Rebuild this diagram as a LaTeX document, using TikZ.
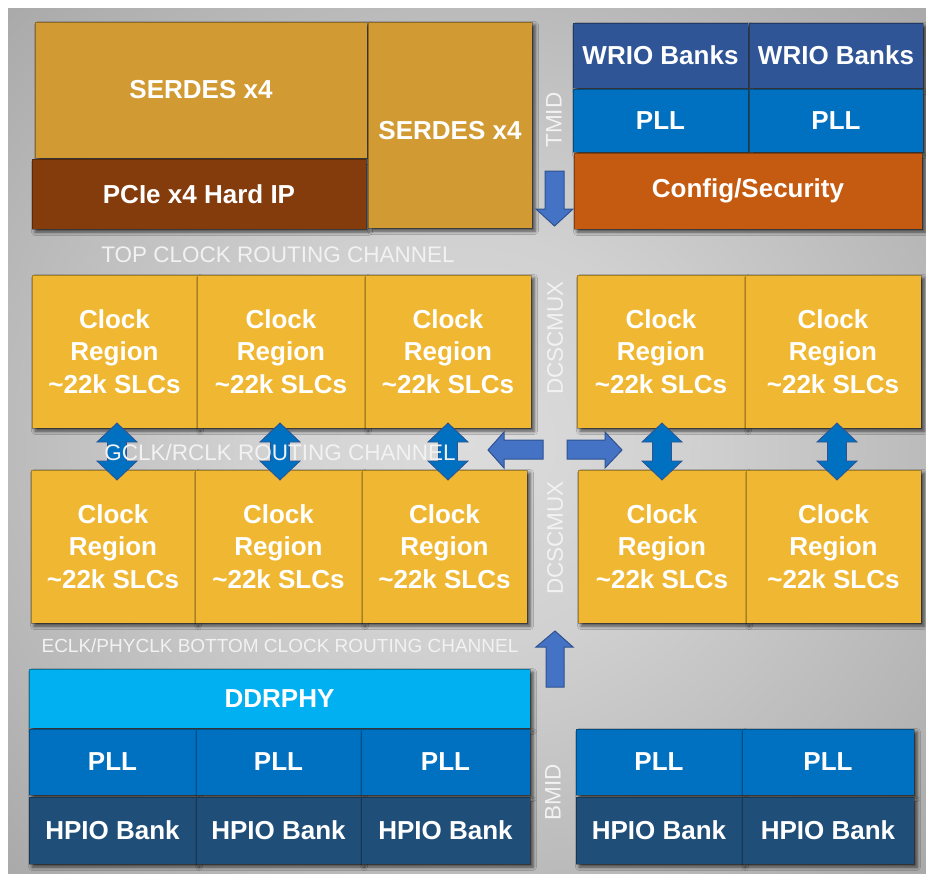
\documentclass[tikz,border=0pt]{standalone}
\usepackage{fontspec}
\setmainfont{Liberation Sans}
\usetikzlibrary{shadows.blur}

% block colours
\definecolor{serdes}{RGB}{209,154,51}
\definecolor{pcie}{RGB}{132,60,12}
\definecolor{wrio}{RGB}{47,85,151}
\definecolor{pll}{RGB}{0,112,192}
\definecolor{config}{RGB}{197,90,17}
\definecolor{clockreg}{RGB}{240,184,50}
\definecolor{ddrphy}{RGB}{0,176,240}
\definecolor{hpio}{RGB}{31,78,121}
\definecolor{arrowfill}{RGB}{68,114,196}
\definecolor{arrowedge}{RGB}{47,82,143}
\definecolor{labelwhite}{RGB}{242,242,242}
% panel background
\definecolor{pcenter}{RGB}{220,220,220}
\definecolor{pmid}{RGB}{145,145,145}
\definecolor{pedge}{RGB}{98,98,98}
\pgfdeclareradialshading{panelshade}{\pgfpoint{0bp}{0bp}}{%
  color(0bp)=(pcenter); color(12bp)=(pcenter!85!pmid); color(50bp)=(pmid); color(72bp)=(pedge)}

% block given by its corners: name, x1, y1, x2, y2, fill, text
\newcommand\blk[7]{%
  \pgfmathsetmacro\blkw{#4-#2}%
  \pgfmathsetmacro\blkh{#5-#3}%
  \node[blockbox,fill=#6,minimum width=\blkw pt,minimum height=\blkh pt]
    (#1) at ({(#2+#4)/2},{(#3+#5)/2}) {#7};%
}
\newcommand\clk{Clock\\Region\\\textasciitilde22k SLCs}

\tikzset{
  blockbox/.style={rectangle, inner sep=0pt, outer sep=0pt,
    draw=black, draw opacity=0.3, line width=0.5pt, text=white, align=center,
    font=\bfseries\fontsize{26}{32.5}\selectfont,
    blur shadow={shadow xshift=3pt, shadow yshift=-3pt,
      shadow blur radius=3.5pt, shadow opacity=65}},
  flatarrow/.style={fill=arrowfill, draw=arrowedge, line width=1pt, line join=miter},
  dblarrow/.style={fill=pll, draw=arrowedge, line width=0.8pt, line join=miter},
  chanlabel/.style={text=labelwhite, inner sep=0pt,
    font=\fontsize{22.5}{24}\selectfont},
}

\begin{document}
\begin{tikzpicture}[x=1pt, y=-1pt]
\useasboundingbox (0,0) rectangle (926,875);

% die panel
\shade[shading=panelshade] (8,9) rectangle (926,873);

% top edge: SERDES, PCIe, WRIO, PLL, config
\blk{serA}{35}{22}{367}{158}{serdes}{SERDES x4}
\blk{pcie}{32}{159}{366}{229}{pcie}{PCIe x4 Hard IP}
\blk{serB}{368}{22}{532}{228}{serdes}{\raisebox{0pt}[\dimexpr\height+12pt][\depth]{SERDES x4}}
\blk{wrioA}{573}{23}{748}{88}{wrio}{WRIO Banks}
\blk{wrioB}{749}{23}{923}{88}{wrio}{WRIO Banks}
\blk{pllTA}{573}{89}{748}{152}{pll}{PLL}
\blk{pllTB}{749}{89}{923}{152}{pll}{PLL}
\blk{cfg}{574}{153}{922}{229}{config}{Config/Security}

% clock regions, upper row
\blk{ct1}{32}{275}{197}{428}{clockreg}{\clk}
\blk{ct2}{197}{275}{365}{428}{clockreg}{\clk}
\blk{ct3}{365}{275}{531}{428}{clockreg}{\clk}
\blk{ct4}{577}{275}{745}{428}{clockreg}{\clk}
\blk{ct5}{745}{275}{921}{428}{clockreg}{\clk}

% clock regions, lower row
\blk{cb1}{31}{470}{195}{623}{clockreg}{\clk}
\blk{cb2}{195}{470}{362}{623}{clockreg}{\clk}
\blk{cb3}{362}{470}{527}{623}{clockreg}{\clk}
\blk{cb4}{578}{470}{746}{623}{clockreg}{\clk}
\blk{cb5}{746}{470}{921}{623}{clockreg}{\clk}

% bottom edge: DDRPHY, PLLs, HPIO banks
\blk{ddr}{29}{669}{530}{728}{ddrphy}{DDRPHY}
\blk{pllB1}{29}{729}{196}{795}{pll}{PLL}
\blk{pllB2}{196}{729}{361}{795}{pll}{PLL}
\blk{pllB3}{361}{729}{530}{795}{pll}{PLL}
\blk{pllB4}{576}{729}{742}{795}{pll}{PLL}
\blk{pllB5}{742}{729}{914}{795}{pll}{PLL}
\blk{hp1}{29}{797}{196}{864}{hpio}{HPIO Bank}
\blk{hp2}{196}{797}{361}{864}{hpio}{HPIO Bank}
\blk{hp3}{361}{797}{530}{864}{hpio}{HPIO Bank}
\blk{hp4}{576}{797}{742}{864}{hpio}{HPIO Bank}
\blk{hp5}{742}{797}{914}{864}{hpio}{HPIO Bank}

% vertical double arrows linking the two clock-region rows
\foreach \cx in {117,280,448,662,837} {
  \draw[dblarrow] (\cx,423) -- (\cx+20,442) -- (\cx+9.5,442) -- (\cx+9.5,461)
    -- (\cx+20,461) -- (\cx,480) -- (\cx-20,461) -- (\cx-9.5,461)
    -- (\cx-9.5,442) -- (\cx-20,442) -- cycle;
}

% horizontal arrows out of the centre channel
\draw[flatarrow] (488,450) -- (504,432) -- (504,440) -- (543,440) -- (543,459)
  -- (504,459) -- (504,468) -- cycle;
\draw[flatarrow] (622,450) -- (605,432) -- (605,440) -- (567,440) -- (567,459)
  -- (605,459) -- (605,468) -- cycle;

% down arrow under TMID, up arrow above BMID
\draw[flatarrow] (545,171) -- (564,171) -- (564,209) -- (573,209) -- (554.5,226)
  -- (536,209) -- (545,209) -- cycle;
\draw[flatarrow] (546,687) -- (564,687) -- (564,647) -- (573,647) -- (555,631)
  -- (536,647) -- (546,647) -- cycle;

% routing channel labels
\node[chanlabel] (topch) at (278,255) {TOP CLOCK ROUTING CHANNEL};
\node[chanlabel] (gclk) at (280,452) {GCLK/RCLK ROUTING CHANNEL};
\node[chanlabel, font=\fontsize{19}{21}\selectfont] (eclk) at (280,646)
  {ECLK/PHYCLK BOTTOM CLOCK ROUTING CHANNEL};
\node[chanlabel, rotate=90] (tmid) at (554,120) {TMID};
\node[chanlabel, rotate=90] (dcsA) at (555,338) {DCSCMUX};
\node[chanlabel, rotate=90] (dcsB) at (555,538) {DCSCMUX};
\node[chanlabel, rotate=90] (bmid) at (553,792) {BMID};
\end{tikzpicture}
\end{document}
